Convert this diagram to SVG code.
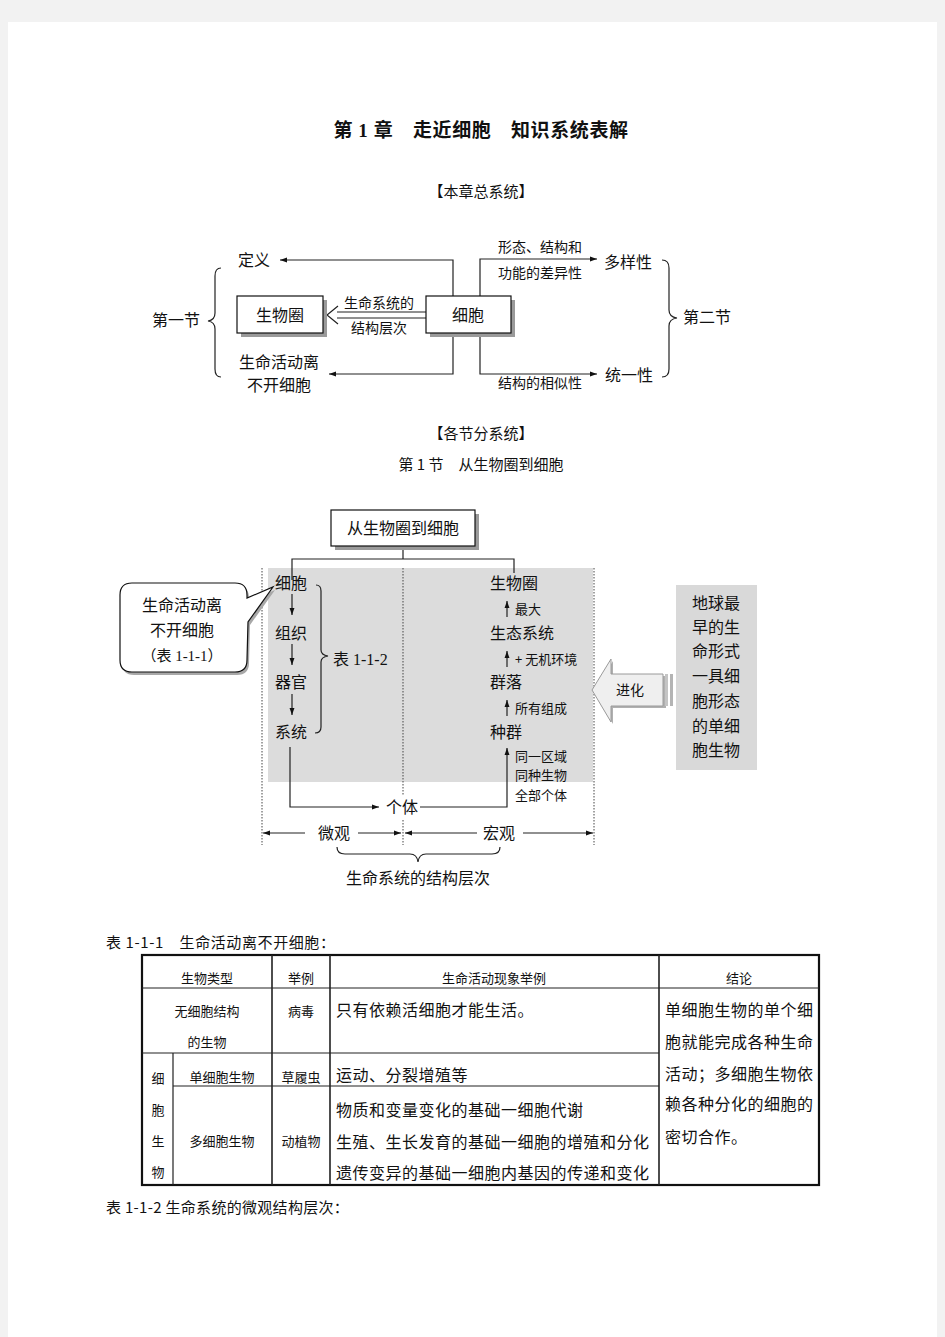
<svg xmlns="http://www.w3.org/2000/svg" width="945" height="1337" viewBox="0 0 945 1337">
<style>
.t{font-family:"Noto Sans CJK SC","Noto Sans",sans-serif;fill:#111}
.s{font-family:"Liberation Serif","Noto Sans CJK SC",serif;fill:#111}
.c{text-anchor:middle}
.w{letter-spacing:0.5px}
.ln{fill:none;stroke:#222;stroke-width:1.2}
.dot{fill:none;stroke:#444;stroke-width:1;stroke-dasharray:1.5,1.5}
.box{fill:#fff;stroke:#111;stroke-width:1.2}
.sh{fill:#9a9a9a}
.tb{fill:none;stroke:#222;stroke-width:1.2}
</style>
<defs>
<marker id="ah" viewBox="0 0 10 10" refX="10" refY="5" markerWidth="7" markerHeight="7" markerUnits="userSpaceOnUse" orient="auto"><path d="M0,1.5 L10,5 L0,8.5 z" fill="#111"/></marker>
</defs>
<rect x="0" y="0" width="945" height="1337" fill="#f2f2f2"/>
<rect x="8" y="22" width="929" height="1315" fill="#fff"/>

<text class="s c" x="481" y="137" font-size="19" font-weight="bold" letter-spacing="0.6">第 1 章　走近细胞　知识系统表解</text>
<text class="t c" x="481" y="197" font-size="15">【本章总系统】</text>

<!-- top diagram connectors -->
<g id="top-connectors">
<path class="ln" d="M453,297 L453,260 L280,260" marker-end="url(#ah)"/>
<path class="ln" d="M453,333 L453,374 L329,374" marker-end="url(#ah)"/>
<path class="ln" d="M480,297 L480,259 L597,259" marker-end="url(#ah)"/>
<path class="ln" d="M480,333 L480,374 L597,374" marker-end="url(#ah)"/>
<path class="ln" d="M426,312 L337,312 M426,318 L337,318 M338,306 L327,315 L338,324"/>
<path class="ln" d="M221,268 Q215,268 215,276 L215,313 Q215,320 208,321 Q215,322 215,329 L215,369 Q215,377 221,377"/>
<path class="ln" d="M662,260 Q669,260 669,268 L669,310 Q669,317 677,318 Q669,319 669,326 L669,369 Q669,377 662,377"/>
</g>
<g id="n-shengwuquan">
<rect class="sh" x="241" y="300" width="86" height="37"/>
<rect class="box" x="237" y="296" width="86" height="37"/>
<text class="t c" x="280" y="321" font-size="16">生物圈</text>
</g>
<g id="n-xibao">
<rect class="sh" x="430" y="300" width="85" height="37"/>
<rect class="box" x="426" y="296" width="85" height="37"/>
<text class="t c" x="468" y="321" font-size="16">细胞</text>
</g>
<g id="top-labels">
<text class="t" x="238" y="266" font-size="16">定义</text>
<text class="t c" x="379" y="308" font-size="14">生命系统的</text>
<text class="t c" x="379" y="333" font-size="14">结构层次</text>
<text class="t c" x="279" y="368" font-size="16">生命活动离</text>
<text class="t c" x="279" y="391" font-size="16">不开细胞</text>
<text class="t" x="152" y="326" font-size="16">第一节</text>
<text class="t" x="498" y="252" font-size="14">形态、结构和</text>
<text class="t" x="498" y="278" font-size="14">功能的差异性</text>
<text class="t" x="604" y="268" font-size="16">多样性</text>
<text class="t" x="498" y="388" font-size="14">结构的相似性</text>
<text class="t" x="605" y="381" font-size="16">统一性</text>
<text class="t" x="683" y="323" font-size="16">第二节</text>
</g>

<text class="t c" x="481" y="439" font-size="15">【各节分系统】</text>
<text class="t c" x="481" y="470" font-size="15">第 1 节　从生物圈到细胞</text>

<!-- middle diagram -->
<rect x="268" y="568" width="325" height="214" fill="#dcdcdc"/>
<g id="mid-connectors">
<path class="dot" d="M262,568 L262,845 M403,568 L403,796 M403,820 L403,845 M594,568 L594,845"/>
<path class="ln" d="M403,546 L403,559 M292,580 L292,559 L514,559 L514,573"/>
<path class="ln" d="M292,594 L292,615" marker-end="url(#ah)"/>
<path class="ln" d="M292,644 L292,665" marker-end="url(#ah)"/>
<path class="ln" d="M292,694 L292,715" marker-end="url(#ah)"/>
<path class="ln" d="M507,617 L507,601" marker-end="url(#ah)"/>
<path class="ln" d="M507,667 L507,651" marker-end="url(#ah)"/>
<path class="ln" d="M507,716 L507,700" marker-end="url(#ah)"/>
<path class="ln" d="M290,747 L290,807 L379,807" marker-end="url(#ah)"/>
<path class="ln" d="M420,807 L507,807 L507,748" marker-end="url(#ah)"/>
<path class="ln" d="M305,833 L263,833" marker-end="url(#ah)"/>
<path class="ln" d="M358,833 L401,833" marker-end="url(#ah)"/>
<path class="ln" d="M477,833 L405,833" marker-end="url(#ah)"/>
<path class="ln" d="M523,833 L593,833" marker-end="url(#ah)"/>
<path class="ln" d="M316,585 Q321,585 321,591 L321,650 Q321,655 328,656 Q321,657 321,662 L321,727 Q321,733 315,733"/>
<path class="ln" d="M337,847 Q337,854 345,854 L410,854 Q417,854 418,862 Q419,854 426,854 L492,854 Q500,854 500,847"/>
</g>
<g id="n-root">
<rect class="sh" x="335" y="514" width="144" height="36"/>
<rect class="box" x="331" y="510" width="144" height="36"/>
<text class="t c" x="403" y="534" font-size="16">从生物圈到细胞</text>
</g>
<g id="n-callout">
<path d="M134,586 L237,586 Q249,586 249,598 L249,601 L275,590 L250,625 L249,663 Q249,675 237,675 L134,675 Q122,675 122,663 L122,598 Q122,586 134,586 Z" fill="#a8a8a8"/>
<path d="M132,583 L235,583 Q247,583 247,595 L247,598 L273,587 L248,622 L247,660 Q247,672 235,672 L132,672 Q120,672 120,660 L120,595 Q120,583 132,583 Z" fill="#fff" stroke="#111" stroke-width="1.2"/>
<text class="t c" x="182" y="611" font-size="16">生命活动离</text>
<text class="t c" x="182" y="636" font-size="16">不开细胞</text>
<text class="s c" x="182" y="661" font-size="15">（表 1-1-1）</text>
</g>
<g id="n-micro">
<text class="t" x="275" y="589" font-size="16">细胞</text>
<text class="t" x="275" y="639" font-size="16">组织</text>
<text class="t" x="275" y="688" font-size="16">器官</text>
<text class="t" x="275" y="738" font-size="16">系统</text>
<text class="s" x="333" y="665" font-size="16">表 1-1-2</text>
</g>
<g id="n-macro">
<text class="t" x="490" y="589" font-size="16">生物圈</text>
<text class="t" x="515" y="614" font-size="13">最大</text>
<text class="t" x="490" y="639" font-size="16">生态系统</text>
<text class="t" x="515" y="664" font-size="13">+ 无机环境</text>
<text class="t" x="490" y="688" font-size="16">群落</text>
<text class="t" x="515" y="713" font-size="13">所有组成</text>
<text class="t" x="490" y="738" font-size="16">种群</text>
<text class="t" x="515" y="761" font-size="13">同一区域</text>
<text class="t" x="515" y="780" font-size="13">同种生物</text>
<text class="t" x="515" y="800" font-size="13">全部个体</text>
</g>
<g id="n-individual">
<text class="t" x="386" y="813" font-size="16">个体</text>
</g>
<g id="n-scale">
<text class="t" x="318" y="839" font-size="16">微观</text>
<text class="t" x="483" y="839" font-size="16">宏观</text>
<text class="t c" x="418" y="884" font-size="16">生命系统的结构层次</text>
</g>
<g id="n-evolution">
<path d="M594,692 L613,661 L613,676 L666,676 L666,708 L613,708 L613,724 Z" fill="#b0b0b0"/>
<path d="M592,690 L611,659 L611,674 L663,674 L663,706 L611,706 L611,722 Z" fill="#efefef" stroke="#9a9a9a" stroke-width="1"/>
<rect x="665" y="674" width="3" height="32" fill="#c4c4c4"/>
<rect x="670" y="674" width="3" height="32" fill="#b4b4b4"/>
<text class="t c" x="630" y="695" font-size="14">进化</text>
</g>
<g id="n-earliest">
<rect x="676" y="585" width="81" height="185" fill="#d9d9d9"/>
<text class="t c" x="716" y="609" font-size="16">地球最</text>
<text class="t c" x="716" y="633" font-size="16">早的生</text>
<text class="t c" x="716" y="657" font-size="16">命形式</text>
<text class="t c" x="716" y="682" font-size="16">一具细</text>
<text class="t c" x="716" y="707" font-size="16">胞形态</text>
<text class="t c" x="716" y="732" font-size="16">的单细</text>
<text class="t c" x="716" y="756" font-size="16">胞生物</text>
</g>

<!-- table -->
<text class="t" x="106" y="948" font-size="15" letter-spacing="0.6">表 1-1-1　生命活动离不开细胞：</text>
<g id="table">
<rect x="142" y="955" width="677" height="230" fill="none" stroke="#111" stroke-width="2.2"/>
<path class="tb" d="M142,988 L819,988 M142,1053 L659,1053 M173,1086 L659,1086 M173,1053 L173,1185"/>
<path d="M272,955 L272,1185 M330,955 L330,1185 M659,955 L659,1185" fill="none" stroke="#222" stroke-width="1.6"/>
<text class="t c" x="207" y="983" font-size="13">生物类型</text>
<text class="t c" x="301" y="983" font-size="13">举例</text>
<text class="t c" x="494" y="983" font-size="13">生命活动现象举例</text>
<text class="t c" x="739" y="983" font-size="13">结论</text>
<text class="t c" x="207" y="1016" font-size="13">无细胞结构</text>
<text class="t c" x="207" y="1047" font-size="13">的生物</text>
<text class="t c" x="301" y="1016" font-size="13">病毒</text>
<text class="t w" x="336" y="1016" font-size="16">只有依赖活细胞才能生活。</text>
<text class="t c" x="158" y="1083" font-size="13">细</text>
<text class="t c" x="158" y="1115" font-size="13">胞</text>
<text class="t c" x="158" y="1146" font-size="13">生</text>
<text class="t c" x="158" y="1177" font-size="13">物</text>
<text class="t c" x="222" y="1082" font-size="13">单细胞生物</text>
<text class="t c" x="301" y="1082" font-size="13">草履虫</text>
<text class="t w" x="336" y="1081" font-size="16">运动、分裂增殖等</text>
<text class="t c" x="222" y="1146" font-size="13">多细胞生物</text>
<text class="t c" x="301" y="1146" font-size="13">动植物</text>
<text class="t w" x="336" y="1116" font-size="16">物质和变量变化的基础一细胞代谢</text>
<text class="t w" x="336" y="1148" font-size="16">生殖、生长发育的基础一细胞的增殖和分化</text>
<text class="t w" x="336" y="1179" font-size="16">遗传变异的基础一细胞内基因的传递和变化</text>
<text class="t w" x="665" y="1016" font-size="16">单细胞生物的单个细</text>
<text class="t w" x="665" y="1048" font-size="16">胞就能完成各种生命</text>
<text class="t w" x="665" y="1080" font-size="16">活动；多细胞生物依</text>
<text class="t w" x="665" y="1110" font-size="16">赖各种分化的细胞的</text>
<text class="t w" x="665" y="1143" font-size="16">密切合作。</text>
</g>
<text class="t" x="106" y="1213" font-size="15" letter-spacing="0.3">表 1-1-2 生命系统的微观结构层次：</text>
</svg>
